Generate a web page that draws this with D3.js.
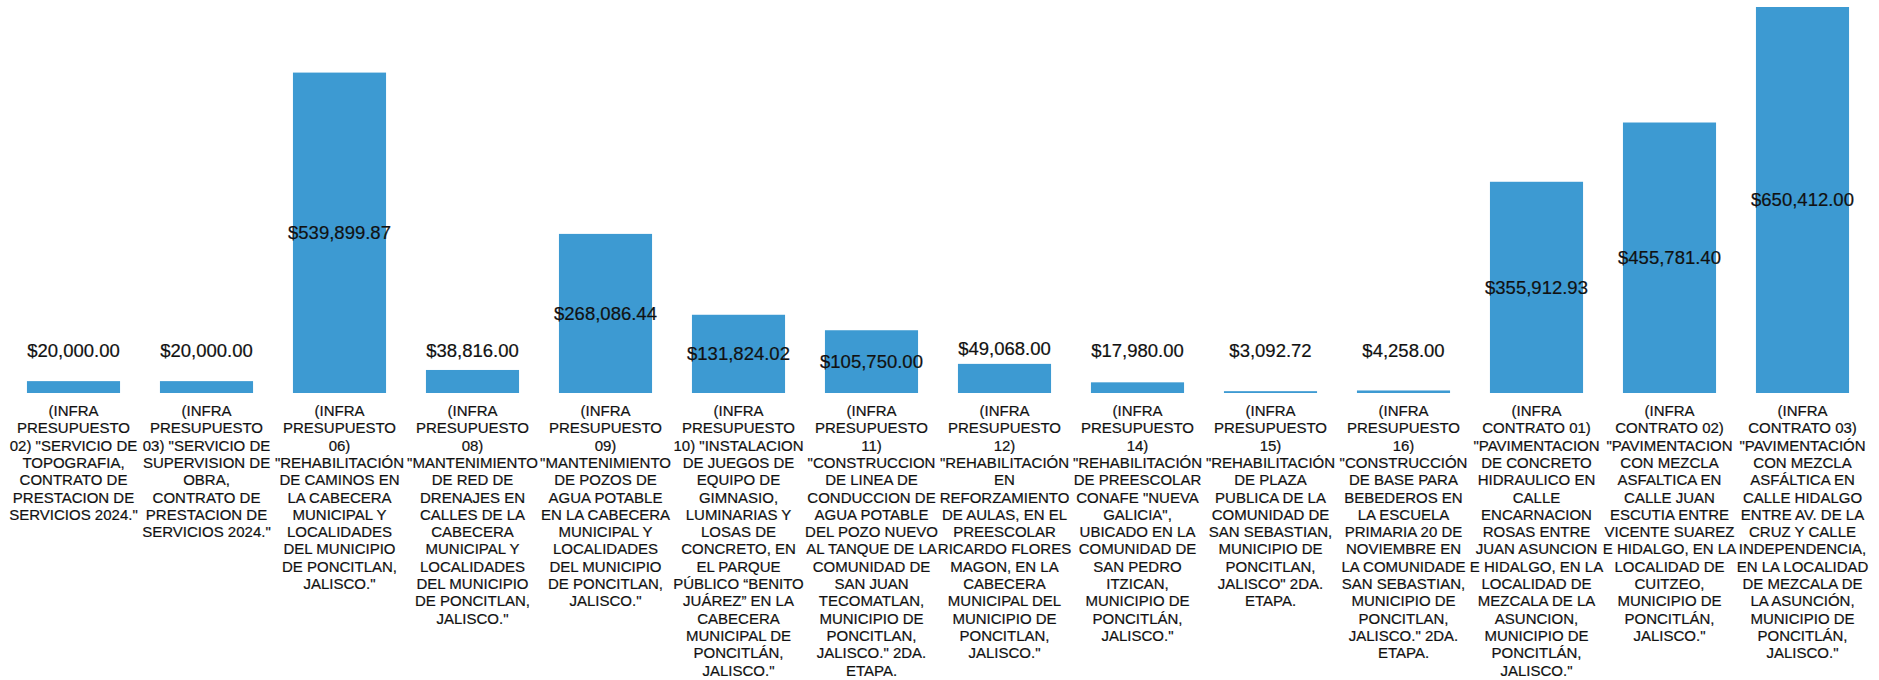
<!DOCTYPE html>
<html>
<head>
<meta charset="utf-8">
<script src="https://cdn.jsdelivr.net/npm/d3@7"></script>
<style>
  body { margin: 0; background: #fff; }
  svg text { font-family: "Liberation Sans", Arial, sans-serif; fill: #111; stroke: #111; stroke-width: 0.2px; }
</style>
</head>
<body>
<div class="chart"></div>
<script>
var width = 1879;
var height = 680;

// montos por obra
var amounts = [20000, 20000, 539899.87, 38816, 268086.44, 131824.02, 105750,
    49068, 17980, 3092.72, 4258, 355912.93, 455781.40, 650412];

// etiquetas de categoria, una linea por renglon
var categories = [
    ["(INFRA", "PRESUPUESTO", "02) \"SERVICIO DE", "TOPOGRAFIA,", "CONTRATO DE", "PRESTACION DE", "SERVICIOS 2024.\""],
    ["(INFRA", "PRESUPUESTO", "03) \"SERVICIO DE", "SUPERVISION DE", "OBRA,", "CONTRATO DE", "PRESTACION DE", "SERVICIOS 2024.\""],
    ["(INFRA", "PRESUPUESTO", "06)", "\"REHABILITACIÓN", "DE CAMINOS EN", "LA CABECERA", "MUNICIPAL Y", "LOCALIDADES", "DEL MUNICIPIO", "DE PONCITLAN,", "JALISCO.\""],
    ["(INFRA", "PRESUPUESTO", "08)", "\"MANTENIMIENTO", "DE RED DE", "DRENAJES EN", "CALLES DE LA", "CABECERA", "MUNICIPAL Y", "LOCALIDADES", "DEL MUNICIPIO", "DE PONCITLAN,", "JALISCO.\""],
    ["(INFRA", "PRESUPUESTO", "09)", "\"MANTENIMIENTO", "DE POZOS DE", "AGUA POTABLE", "EN LA CABECERA", "MUNICIPAL Y", "LOCALIDADES", "DEL MUNICIPIO", "DE PONCITLAN,", "JALISCO.\""],
    ["(INFRA", "PRESUPUESTO", "10) \"INSTALACION", "DE JUEGOS DE", "EQUIPO DE", "GIMNASIO,", "LUMINARIAS Y", "LOSAS DE", "CONCRETO, EN", "EL PARQUE", "PÚBLICO “BENITO", "JUÁREZ” EN LA", "CABECERA", "MUNICIPAL DE", "PONCITLÁN,", "JALISCO.\""],
    ["(INFRA", "PRESUPUESTO", "11)", "\"CONSTRUCCION", "DE LINEA DE", "CONDUCCION DE", "AGUA POTABLE", "DEL POZO NUEVO", "AL TANQUE DE LA", "COMUNIDAD DE", "SAN JUAN", "TECOMATLAN,", "MUNICIPIO DE", "PONCITLAN,", "JALISCO.\"  2DA.", "ETAPA."],
    ["(INFRA", "PRESUPUESTO", "12)", "\"REHABILITACIÓN", "EN", "REFORZAMIENTO", "DE AULAS, EN EL", "PREESCOLAR", "RICARDO FLORES", "MAGON, EN LA", "CABECERA", "MUNICIPAL DEL", "MUNICIPIO DE", "PONCITLAN,", "JALISCO.\""],
    ["(INFRA", "PRESUPUESTO", "14)", "\"REHABILITACIÓN", "DE PREESCOLAR", "CONAFE \"NUEVA", "GALICIA\",", "UBICADO EN LA", "COMUNIDAD DE", "SAN PEDRO", "ITZICAN,", "MUNICIPIO DE", "PONCITLÁN,", "JALISCO.\""],
    ["(INFRA", "PRESUPUESTO", "15)", "\"REHABILITACIÓN", "DE PLAZA", "PUBLICA DE LA", "COMUNIDAD DE", "SAN SEBASTIAN,", "MUNICIPIO DE", "PONCITLAN,", "JALISCO\" 2DA.", "ETAPA."],
    ["(INFRA", "PRESUPUESTO", "16)", "\"CONSTRUCCIÓN", "DE BASE PARA", "BEBEDEROS EN", "LA ESCUELA", "PRIMARIA 20 DE", "NOVIEMBRE EN", "LA COMUNIDADE", "SAN SEBASTIAN,", "MUNICIPIO DE", "PONCITLAN,", "JALISCO.\" 2DA.", "ETAPA."],
    ["(INFRA", "CONTRATO 01)", "\"PAVIMENTACION", "DE CONCRETO", "HIDRAULICO EN", "CALLE", "ENCARNACION", "ROSAS ENTRE", "JUAN ASUNCION", "E HIDALGO, EN LA", "LOCALIDAD DE", "MEZCALA DE LA", "ASUNCION,", "MUNICIPIO DE", "PONCITLÁN,", "JALISCO.\""],
    ["(INFRA", "CONTRATO 02)", "\"PAVIMENTACION", "CON MEZCLA", "ASFALTICA EN", "CALLE JUAN", "ESCUTIA ENTRE", "VICENTE SUAREZ", "E HIDALGO, EN LA", "LOCALIDAD DE", "CUITZEO,", "MUNICIPIO DE", "PONCITLÁN,", "JALISCO.\""],
    ["(INFRA", "CONTRATO 03)", "\"PAVIMENTACIÓN", "CON MEZCLA", "ASFÁLTICA EN", "CALLE HIDALGO", "ENTRE AV. DE LA", "CRUZ Y CALLE", "INDEPENDENCIA,", "EN LA LOCALIDAD", "DE MEZCALA DE", "LA ASUNCIÓN,", "MUNICIPIO DE", "PONCITLÁN,", "JALISCO.\""]
];

var baseline = 393;
var lineStep = 17.3;

var svg = d3.select(".chart")
    .append("svg")
    .attr("width", width)
    .attr("height", height);

var xScale = d3.scaleBand()
    .domain(d3.range(amounts.length))
    .range([7, 1869])
    .paddingInner(0.3)
    .paddingOuter(0.15);

var yScale = d3.scaleLinear()
    .domain([0, d3.max(amounts)])
    .range([baseline, 7]);

var money = d3.format("$,.2f");

svg.selectAll("rect.bar")
    .data(amounts)
    .enter()
    .append("rect")
    .attr("class", "bar")
    .attr("x", function(d, i) { return xScale(i); })
    .attr("y", function(d) { return yScale(d); })
    .attr("width", xScale.bandwidth())
    .attr("height", function(d) { return Math.max(1.5, baseline - yScale(d)); })
    .attr("fill", "#3d9ad2");

// etiquetas de valor: centradas en barras altas, encima en las chicas
svg.selectAll("text.value")
    .data(amounts)
    .enter()
    .append("text")
    .attr("class", "value")
    .attr("x", function(d, i) { return xScale(i) + xScale.bandwidth() / 2; })
    .attr("y", function(d) {
        var top = yScale(d);
        if (baseline - top > 50) return (top + baseline) / 2;
        return Math.min(351, top - 15);
    })
    .attr("dy", "0.35em")
    .attr("text-anchor", "middle")
    .style("font-size", "18.5px")
    .text(function(d) { return money(d); });

var labels = svg.selectAll("text.cat")
    .data(categories)
    .enter()
    .append("text")
    .attr("class", "cat")
    .attr("text-anchor", "middle")
    .style("font-size", "15px")
    .attr("transform", function(d, i) {
        return `translate(${xScale(i) + xScale.bandwidth() / 2},416)`;
    });

labels.selectAll("tspan")
    .data(function(d) { return d; })
    .enter()
    .append("tspan")
    .attr("x", 0)
    .attr("y", function(d, j) { return j * lineStep; })
    .text(function(d) { return d; });
</script>
</body>
</html>
